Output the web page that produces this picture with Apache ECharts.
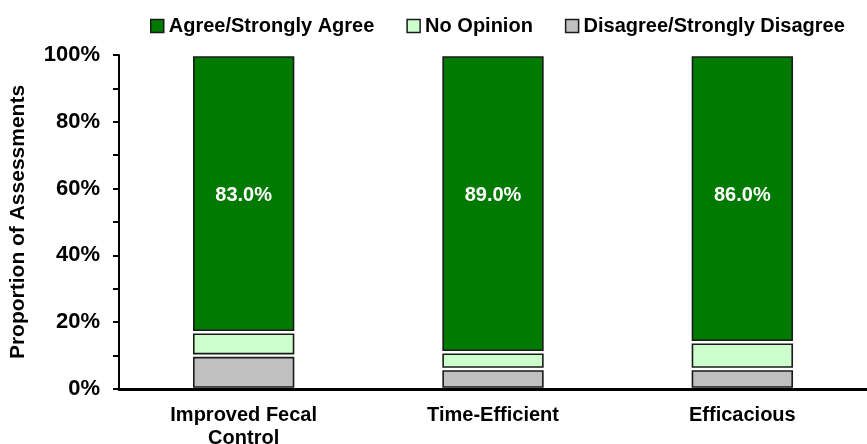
<!DOCTYPE html>
<html>
<head>
<meta charset="utf-8">
<script src="https://cdn.jsdelivr.net/npm/echarts@6/dist/echarts.min.js"></script>
<style>
  html, body { margin: 0; padding: 0; background: #fff; }
  #chart { width: 867px; height: 444px; }
</style>
</head>
<body>
<div id="chart"></div>
<script>
// Survey responses per attribute (percent of assessments)
const categories = ['Improved Fecal\nControl', 'Time-Efficient', 'Efficacious'];
const disagree = [10, 6, 6];
const noOpinion = [7, 5, 8];
const agree = [83, 89, 86];
const yTicks = [0, 20, 40, 60, 80, 100];

const FONT = '"Liberation Sans", Arial, sans-serif';
// Height (in axis units) at which the value labels sit
const LABEL_LEVEL = 58;

// Stack order bottom -> top
const stackDefs = [
  { name: 'Disagree/Strongly Disagree', values: disagree, color: '#C0C0C0', label: false },
  { name: 'No Opinion', values: noOpinion, color: '#CCFFCC', label: false },
  { name: 'Agree/Strongly Agree', values: agree, color: '#007A00', label: true }
];

// Cumulative bases for each stacked segment
const running = categories.map(() => 0);
const stacked = stackDefs.map(def => {
  const rows = def.values.map((v, i) => {
    const row = [i, running[i], running[i] + v, v];
    running[i] += v;
    return row;
  });
  return Object.assign({}, def, { rows });
});

function makeRender(def) {
  return function (params, api) {
    const idx = api.value(0);
    const lo = api.coord([idx, api.value(1)]);
    const hi = api.coord([idx, api.value(2)]);
    const bandW = api.size([1, 0])[0];
    const w = bandW * 0.40;
    const inset = 2;
    const x = lo[0] - w / 2;
    const y = hi[1] + inset;
    const h = lo[1] - hi[1] - inset * 2;
    const rect = {
      type: 'rect',
      shape: { x: x, y: y, width: w, height: h },
      style: { fill: def.color, stroke: '#1a1a1a', lineWidth: 1.6 }
    };
    if (!def.label) return rect;
    const lp = api.coord([idx, LABEL_LEVEL]);
    return {
      type: 'group',
      children: [
        rect,
        {
          type: 'text',
          x: lp[0],
          y: lp[1],
          style: {
            text: api.value(3).toFixed(1) + '%',
            fill: '#ffffff',
            font: 'bold 20px ' + FONT,
            align: 'center',
            verticalAlign: 'middle'
          }
        }
      ]
    };
  };
}

const series = stacked.map(def => ({
  name: def.name,
  type: 'custom',
  renderItem: makeRender(def),
  itemStyle: { color: def.color, borderColor: '#1a1a1a', borderWidth: 1.5 },
  encode: { x: 0, y: [1, 2] },
  data: def.rows,
  animation: false
}));

const chart = echarts.init(document.getElementById('chart'), null, { renderer: 'canvas' });
chart.setOption({
  animation: false,
  textStyle: { fontFamily: FONT },
  legend: {
    data: ['Agree/Strongly Agree', 'No Opinion', 'Disagree/Strongly Disagree'],
    left: 145,
    top: 11,
    icon: 'rect',
    itemWidth: 13,
    itemHeight: 13,
    itemGap: 32,
    itemStyle: { borderColor: '#1a1a1a', borderWidth: 1.5 },
    textStyle: { fontSize: 20, fontWeight: 'bold', color: '#000', fontFamily: FONT }
  },
  grid: { left: 119, right: 0, top: 55, bottom: 55, containLabel: false, outerBoundsMode: 'none' },
  xAxis: {
    type: 'category',
    data: categories,
    axisLine: { lineStyle: { color: '#000', width: 3 } },
    axisTick: { show: false },
    axisLabel: {
      color: '#000', fontSize: 20, fontWeight: 'bold', fontFamily: FONT,
      margin: 15, lineHeight: 23, interval: 0
    }
  },
  yAxis: {
    type: 'value',
    min: yTicks[0],
    max: yTicks[yTicks.length - 1],
    interval: 20,
    name: 'Proportion of Assessments',
    nameLocation: 'middle',
    nameGap: 90,
    nameTextStyle: { fontSize: 21, fontWeight: 'bold', color: '#000', fontFamily: FONT },
    axisLine: { show: true, lineStyle: { color: '#000', width: 2 } },
    axisTick: { show: true, length: 6, lineStyle: { color: '#000', width: 2 } },
    minorTick: { show: true, splitNumber: 2, length: 6, lineStyle: { color: '#000', width: 2 } },
    splitLine: { show: false },
    axisLabel: {
      color: '#000', fontSize: 22, fontWeight: 'bold', fontFamily: FONT,
      margin: 19, formatter: v => v + '%'
    }
  },
  series: series
});
</script>
</body>
</html>
